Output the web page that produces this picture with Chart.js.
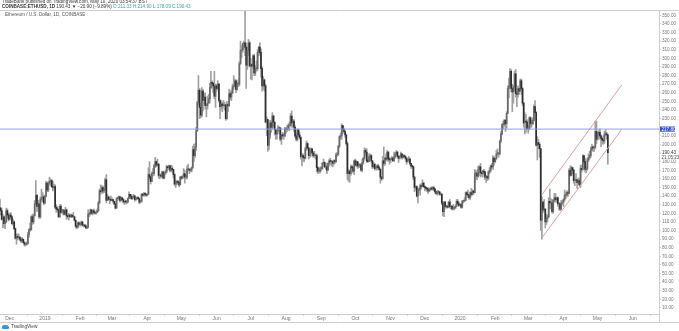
<!DOCTYPE html>
<html><head><meta charset="utf-8">
<script src="https://cdn.jsdelivr.net/npm/chart.js@4"></script>
<style>
html,body{margin:0;padding:0;background:#fff;}
#wrap{position:relative;width:679px;height:331px;overflow:hidden;font-family:"Liberation Sans",Arial,sans-serif;}
canvas{position:absolute;left:0;top:0;}
.t{position:absolute;white-space:nowrap;line-height:1;}
#h1{left:2px;top:0px;font-size:4.6px;color:#333;}
#h2{left:2px;top:4.5px;font-size:4.6px;color:#333;}
#h2 b{font-weight:bold;}
#h2 .v{color:#3aa39c;}
#leg{left:5px;top:13px;font-size:4.6px;color:#555;}
#logo{left:2px;top:325px;font-size:4.8px;color:#444;}
#logo i{display:inline-block;width:7px;height:4px;background:#2e9be0;border-radius:2px 3px 1px 1px;margin-right:2px;vertical-align:middle;}
</style></head>
<body><div id="wrap">
<canvas id="c" width="679" height="331"></canvas>
<div class="t" id="h1">TradeBank published on TradingView.com, May 10, 2020 03:54:37 BST</div>
<div class="t" id="h2"><b>COINBASE:ETHUSD, 1D</b> 190.43 ▼ −20.90 (−9.89%) <span class="v">O:211.33</span> <span class="v">H:214.90</span> <span class="v">L:178.09</span> <span class="v">C:190.43</span></div>
<div class="t" id="leg">Ethereum / U.S. Dollar, 1D, COINBASE</div>
<div class="t" id="logo"><i></i>TradingView</div>
</div>
<script>
// day index 0 = 1 Jan 2019; first candle = 22 Nov 2018
const startDay = -40;
const firstOpen = 136;
const closes = [
// Nov 22-30 2018
126,123,113,116,108,110,123,118,113,
// Dec 2018
118,116,108,110,102,91,93,92,92,90,88,90,86,84,84,85,95,101,101,116,110,117,131,141,128,131,116,136,138,139,132,
// Jan 2019
140,155,147,155,157,158,151,150,151,127,125,124,116,128,121,123,123,119,124,117,116,118,116,118,116,116,112,105,104,109,107,
// Feb 2019
107,110,106,106,105,103,104,119,119,124,120,123,121,120,121,123,132,146,145,150,146,148,159,135,139,136,136,135,
// Mar 2019
136,134,131,126,137,137,139,135,138,136,133,134,133,133,137,142,140,137,139,140,136,137,138,137,133,134,142,141,143,142,141,
// Apr 2019
142,165,162,157,166,166,175,180,176,177,164,164,163,168,161,167,168,174,173,175,170,172,171,165,154,155,157,156,153,162,
// May 2019
161,163,166,162,162,171,171,170,170,173,194,187,197,216,249,263,243,234,262,251,255,245,245,248,253,266,272,271,268,256,268,
// Jun 2019
265,270,251,244,247,245,245,246,230,246,245,259,255,260,267,268,274,264,270,270,294,309,310,317,318,313,292,309,318,291,
// Jul 2019
293,291,303,283,288,288,307,313,307,288,268,275,268,226,229,199,211,225,220,233,226,217,212,216,219,219,206,211,210,210,218,
// Aug 2019
217,218,222,222,233,225,227,220,210,206,217,211,208,186,187,185,184,195,201,196,187,192,195,190,187,187,187,173,169,169,172,
// Sep 2019
172,178,179,174,174,170,178,181,180,180,178,181,180,188,189,198,209,210,222,217,215,211,201,166,169,166,174,173,169,181,
// Oct 2019
176,180,175,176,176,170,179,184,193,191,181,180,186,187,181,174,177,172,173,175,173,171,162,160,181,178,184,183,191,183,182,
// Nov 2019
183,184,181,186,189,191,186,184,186,189,185,187,186,184,180,182,183,178,175,174,162,150,151,140,147,148,152,151,155,151,
// Dec 2019
150,149,148,146,148,149,148,150,148,145,143,145,145,142,142,132,122,133,128,128,127,133,128,128,125,126,126,128,134,131,129,
// Jan 2020
130,127,134,134,135,144,142,141,138,144,142,146,144,166,166,163,171,174,167,166,169,168,162,163,161,168,170,175,174,184,180,
// Feb 2020
183,189,189,189,204,212,223,223,228,224,236,265,268,285,265,261,267,282,259,258,265,262,274,265,248,225,227,226,218,
// Mar 2020
218,231,224,224,228,244,237,199,202,200,195,112,133,124,125,110,114,116,134,132,132,122,135,138,136,138,131,131,125,132,133,
// Apr 2020
136,141,141,144,143,170,164,173,170,158,158,159,156,158,153,172,171,187,180,171,172,182,185,187,194,197,196,197,215,206,
// May 1-10 2020
212,214,210,207,205,204,212,212,211,190.43
];
const highs = [
137,127,126,119,117,112,126,125,120,
120,121,117,113,111,103,96,96,96,93,91,92,90,87,85,87,98,102,109,117,119,119,135,158,142,135,132,139,148,144,141,
141,157,156,157,162,160,159,157,154,153,130,128,125,130,130,125,124,124,127,125,118,120,119,119,118,121,116,112,106,110,110,
109,111,110,107,107,107,105,124,121,125,124,124,125,122,123,125,134,148,153,152,152,149,161,165,142,140,138,140,
138,136,134,132,138,139,140,140,139,138,137,134,135,135,138,145,142,142,140,142,141,138,139,139,138,135,143,143,144,144,143,
143,173,180,163,168,172,177,185,181,183,178,165,166,169,169,168,170,176,175,176,175,176,175,171,166,159,158,158,157,163,
163,164,172,170,164,175,177,172,172,174,198,200,201,220,250,280,265,248,266,264,259,260,247,256,258,271,285,274,272,285,270,
270,274,271,252,251,249,251,249,246,250,248,264,262,263,270,280,276,275,272,275,296,320,315,318,320,364,318,313,322,320,
300,294,304,305,292,297,310,314,318,311,290,279,276,270,232,229,214,228,227,237,234,226,218,217,222,220,220,212,214,213,220,
220,222,224,226,236,239,229,229,222,213,218,218,214,209,190,189,187,197,204,202,196,194,196,195,192,192,188,189,174,172,174,
174,179,183,180,175,178,179,183,184,181,181,182,182,190,191,199,210,213,224,222,219,216,212,203,171,170,176,176,174,182,
183,181,180,178,177,178,183,185,196,195,195,183,189,189,188,181,179,178,174,176,177,175,172,163,186,197,185,189,193,192,185,
184,186,185,191,191,193,192,187,187,191,189,188,188,187,185,183,186,184,178,176,175,163,152,152,150,149,154,154,159,156,
152,151,149,150,149,150,151,151,151,149,146,146,146,145,144,143,133,134,134,129,129,134,136,129,129,130,128,130,136,136,133,
132,131,135,135,138,145,145,147,142,145,149,147,146,171,170,167,175,175,178,168,170,171,169,164,163,169,173,176,178,187,186,
184,193,195,191,205,215,224,227,229,229,238,268,277,288,287,270,268,285,287,261,268,265,276,276,266,249,237,235,229,
222,232,232,228,231,246,251,238,209,206,202,195,139,134,136,125,119,118,138,148,137,136,136,143,143,139,139,132,132,135,135,
137,147,145,146,146,172,175,175,173,171,160,166,159,161,160,176,176,188,187,184,175,184,189,192,197,200,198,198,227,227,
215,216,218,211,208,210,215,217,214,212
];
const lows = [
125,118,112,103,104,102,109,115,111,
112,114,107,106,101,90,84,89,90,88,86,87,85,82,82,83,84,92,99,100,107,108,117,130,122,124,114,114,134,133,130,
131,139,145,145,153,152,150,146,148,125,121,122,115,115,120,120,118,118,119,113,114,112,115,115,115,115,111,103,102,103,106,
105,106,105,104,104,102,102,103,116,118,119,118,120,119,119,121,122,131,142,144,143,144,146,132,135,135,131,134,
135,132,130,125,126,135,136,133,134,135,132,130,132,131,133,137,138,136,136,138,134,135,136,136,131,132,133,140,140,140,140,
140,142,159,154,157,163,164,173,174,175,161,160,162,161,160,160,165,167,170,171,168,168,168,161,152,150,153,154,151,153,
159,160,161,155,160,160,169,166,168,168,172,180,185,193,215,246,230,231,232,239,247,241,232,241,248,248,265,265,260,253,243,
262,264,249,230,241,238,243,240,228,229,238,244,252,251,259,264,267,260,263,267,268,293,301,307,310,303,265,287,303,290,
276,275,288,280,280,285,286,303,304,278,262,264,262,225,210,192,194,207,214,218,220,211,206,206,214,212,204,200,208,206,209,
213,215,217,216,221,220,220,215,208,204,204,209,206,183,175,180,180,183,193,194,183,185,189,186,185,185,183,168,166,167,167,
169,171,176,173,171,166,170,175,177,175,174,176,178,179,186,187,196,206,206,213,213,208,199,159,157,156,164,170,167,165,
175,174,172,173,173,169,168,177,182,187,179,179,180,183,179,172,173,170,171,170,171,170,155,158,160,175,176,181,181,180,177,
179,182,180,180,184,187,184,179,183,184,183,184,185,182,177,179,181,176,172,172,159,145,147,139,132,144,141,148,151,150,
146,147,145,143,145,146,147,147,146,143,142,141,143,141,141,130,117,116,126,126,126,127,126,125,124,124,124,126,128,130,128,
129,126,126,132,134,135,140,138,136,136,140,141,142,144,159,159,162,164,162,163,162,165,159,156,158,159,166,168,172,171,176,
179,183,187,185,188,202,211,218,221,215,219,236,254,265,261,238,248,262,255,244,255,258,262,258,245,220,212,214,217,
213,217,220,220,223,227,237,198,182,195,185,100,90,121,122,103,107,110,115,125,125,120,120,133,133,133,128,124,123,124,130,
128,134,137,139,140,143,163,164,166,155,152,156,149,154,152,150,168,170,177,168,167,170,180,183,185,193,192,192,195,201,
205,209,206,197,201,200,201,210,206,177
];
// reference lines
const hLineValue = 217.80;
const channelX = [436.8, 507.2];
const channelLower = [91, 217.5];
const channelUpper = [141.2, 269];
// time axis labels
const monthLabels = ['Dec','2019','Feb','Mar','Apr','May','Jun','Jul','Aug','Sep','Oct','Nov','Dec','2020','Feb','Mar','Apr','May','Jun'];
const monthIdx = [-31,0,31,59,90,120,151,181,212,243,273,304,334,365,396,425,456,486,517];
const countdown = '21:05:23';

const bodies = [], wicks = [], bodyColors = [];
for (let i = 0; i < closes.length; i++) {
  const o = i === 0 ? firstOpen : closes[i-1];
  const c = closes[i];
  const x = startDay + i;
  bodies.push({x, y:[Math.min(o,c), Math.max(o,c)]});
  wicks.push({x, y:[lows[i], highs[i]]});
  bodyColors.push(c >= o ? '#6a6a6a' : '#2e2e2e');
}
const lastClose = closes[closes.length-1];

const frame = {
  id:'frame',
  beforeDraw(ch){
    const g = ch.ctx; g.save(); g.fillStyle='#fff'; g.fillRect(0,0,ch.width,ch.height); g.restore();
  },
  afterDraw(ch){
    const g = ch.ctx, a = ch.chartArea, ys = ch.scales.y;
    g.save();
    g.strokeStyle = '#cfcfcf'; g.lineWidth = 1;
    g.beginPath();
    g.moveTo(0, a.top - 0.5); g.lineTo(679, a.top - 0.5);
    g.moveTo(0, 322.5); g.lineTo(679, 322.5);
    g.moveTo(a.right + 0.5, a.top); g.lineTo(a.right + 0.5, 323);
    g.stroke();
    // horizontal line label
    let y = ys.getPixelForValue(hLineValue);
    g.fillStyle = '#3d4fd8';
    g.fillRect(a.right + 1, y - 2.6, 15, 5.2);
    g.fillStyle = '#fff'; g.font = '4.6px "Liberation Sans", Arial, sans-serif';
    g.textBaseline = 'middle'; g.textAlign = 'left';
    g.fillText(hLineValue.toFixed(2), a.right + 2.5, y + 0.2);
    // current price label
    y = ys.getPixelForValue(lastClose);
    g.fillStyle = '#fff';
    g.fillRect(a.right + 1, y - 2.6, 16, 9.5);
    g.strokeStyle = '#bbb';
    g.beginPath(); g.moveTo(a.right, y + 0.5); g.lineTo(a.right + 2, y + 0.5); g.stroke();
    g.fillStyle = '#333';
    g.fillText(lastClose.toFixed(2), a.right + 3, y + 0.2);
    g.fillStyle = '#555';
    g.fillText(countdown, a.right + 2.5, y + 5.5);
    g.restore();
  }
};

new Chart(document.getElementById('c'), {
  type:'bar',
  data:{
    datasets:[
      {label:'wick', data:wicks, backgroundColor:'#a0a0a0', barThickness:1, grouped:false, order:3},
      {label:'body', data:bodies, backgroundColor:bodyColors, barThickness:1, grouped:false, minBarLength:1, order:2},
      {type:'line', label:'level', data:[{x:-39.5,y:hLineValue},{x:540,y:hLineValue}], borderColor:'#959ced', borderWidth:1, pointRadius:0, order:1},
      {type:'line', label:'lower', data:[{x:channelX[0],y:channelLower[0]},{x:channelX[1],y:channelLower[1]}], borderColor:'#e3a0a0', borderWidth:1, pointRadius:0, order:1},
      {type:'line', label:'upper', data:[{x:channelX[0],y:channelUpper[0]},{x:channelX[1],y:channelUpper[1]}], borderColor:'#e3a0a0', borderWidth:1, pointRadius:0, order:1}
    ]
  },
  options:{
    responsive:false, animation:false, devicePixelRatio:1,
    layout:{padding:{top:11,bottom:9,left:0,right:0}},
    plugins:{legend:{display:false}, tooltip:{enabled:false}},
    scales:{
      x:{type:'linear', min:-39.5, max:540, offset:false,
        grid:{drawOnChartArea:false, tickLength:2, color:'#cfcfcf'},
        border:{display:true, color:'#cfcfcf'},
        afterBuildTicks(s){ s.ticks = monthIdx.map(v=>({value:v})); },
        afterFit(s){ s.height = 8; },
        ticks:{autoSkip:false, maxRotation:0, padding:0, color:'#777',
          font:{size:5, family:'"Liberation Sans", Arial, sans-serif'},
          callback(v){ const k = monthIdx.indexOf(v); return k >= 0 ? monthLabels[k] : ''; }}
      },
      y:{type:'linear', position:'right', min:3, max:355,
        grid:{drawOnChartArea:false, tickLength:2, color:'#cfcfcf'},
        border:{display:true, color:'#cfcfcf'},
        afterBuildTicks(s){
          const t = [];
          for (let v = 10; v <= 350; v += 10) { if (v !== 220 && v !== 190) t.push({value:v}); }
          s.ticks = t;
        },
        afterFit(s){ s.width = 20; },
        ticks:{padding:1, color:'#777', font:{size:4.6, family:'"Liberation Sans", Arial, sans-serif'},
          callback(v){ return Number(v).toFixed(2); }}
      }
    }
  },
  plugins:[frame]
});
</script>
</body></html>
